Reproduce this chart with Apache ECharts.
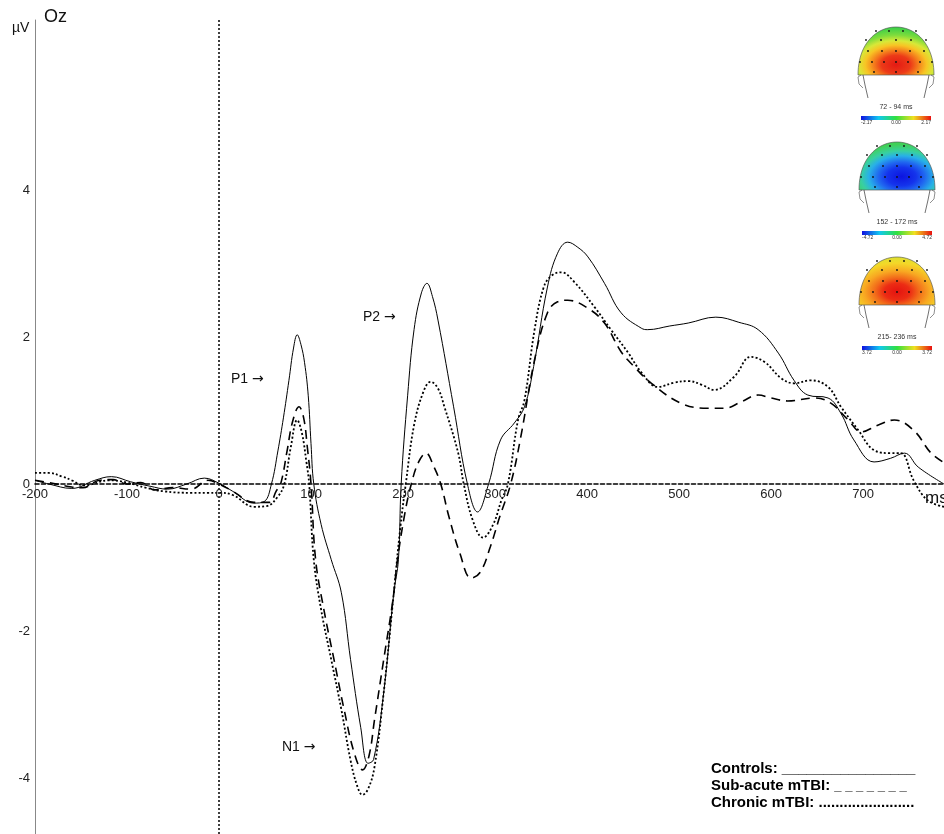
<!DOCTYPE html>
<html><head><meta charset="utf-8">
<script src="https://cdn.jsdelivr.net/npm/echarts@6/dist/echarts.min.js"></script>
<style>html,body{margin:0;padding:0;background:#fff}#c{width:944px;height:834px}</style>
</head><body><div id="c"></div>
<script>
// ---- data (time in ms, amplitude in µV) ----
const ctrlT = [-200,-185,-160,-135,-117,-96,-75,-56,-35,-16,0,15,38,49,57,64,70,76,81,85,89,93,97,100,103,111,122,133,143,154,162,168,179,190,195,198,205,212,220,226,232,238,255,270,281,293,306,321,332,342,357,368,379,390,401,419,437,459,466,490,510,540,565,586,608,625,640,662,676,690,712,730,745,760,788];
const ctrlV = [0.05,0.0,-0.06,0.05,0.1,0.03,-0.03,-0.07,0.0,0.08,0.01,-0.1,-0.26,-0.24,0.0,0.45,0.9,1.41,1.85,2.03,1.9,1.65,1.2,0.55,0.0,-0.55,-1.03,-1.48,-2.39,-3.31,-3.8,-3.75,-2.84,-1.48,-1.03,0.0,1.2,2.1,2.6,2.73,2.55,2.23,1.05,0.0,-0.38,0.0,0.6,0.83,1.05,1.6,2.68,3.14,3.29,3.22,3.09,2.73,2.33,2.12,2.10,2.15,2.19,2.27,2.2,2.10,1.78,1.41,1.21,1.17,0.96,0.6,0.3,0.35,0.42,0.23,0.0];

const subT = [-200,-185,-160,-148,-130,-115,-100,-85,-70,-50,-30,-12,0,15,38,55,62,67,74,80,87,92,96,100,105,114,125,136,147,156,163,169,179,189,194,202,209,217,225,233,241,250,262,274,284,295,305,317,328,343,357,368,379,401,419,437,451,470,502,531,549,568,586,600,618,647,665,684,698,716,734,755,774,788];
const subV = [0.05,0.02,-0.04,-0.05,0.05,0.06,0.0,0.02,-0.08,-0.05,-0.07,0.05,0.0,-0.1,-0.25,-0.25,-0.1,0.0,0.45,0.85,1.05,0.9,0.5,0.0,-1.03,-1.71,-2.39,-3.07,-3.66,-3.89,-3.7,-3.21,-2.39,-1.58,-1.03,-0.4,0.0,0.3,0.42,0.25,0.0,-0.45,-0.95,-1.28,-1.2,-0.85,-0.45,0.0,0.64,1.69,2.33,2.48,2.5,2.39,2.19,1.8,1.6,1.37,1.1,1.03,1.03,1.12,1.21,1.17,1.13,1.17,1.1,0.87,0.71,0.8,0.87,0.73,0.42,0.29];

const chrT = [-200,-185,-170,-160,-147,-120,-100,-80,-60,-30,-12,0,15,38,52,64,71,78,85,90,95,98,103,111,122,133,143,150,156,162,169,179,190,197,203,212,222,230,238,245,260,266,276,287,298,307,314,325,332,343,353,362,372,386,408,426,445,459,477,495,510,525,538,560,578,593,611,625,643,662,676,695,712,730,741,755,770,788];
const chrV = [0.15,0.15,0.1,0.05,-0.02,0.05,0.02,-0.05,-0.1,-0.12,-0.12,-0.12,-0.15,-0.31,-0.3,-0.17,0.0,0.5,0.87,0.7,0.3,0.0,-1.03,-1.71,-2.39,-3.07,-3.76,-4.1,-4.23,-4.15,-3.85,-2.84,-1.48,-0.6,0.0,0.8,1.25,1.39,1.3,1.05,0.42,0.0,-0.5,-0.73,-0.55,-0.22,0.0,0.87,1.14,2.1,2.68,2.84,2.88,2.75,2.41,2.1,1.78,1.52,1.32,1.38,1.40,1.35,1.28,1.46,1.73,1.66,1.44,1.37,1.41,1.32,1.05,0.73,0.46,0.42,0.42,0.05,-0.22,-0.31];

const xTickLabels = [-200,-100,0,100,200,300,400,500,600,700];
const yTickLabels = [-4,-2,0,2,4];
const topoMaps = [
  {label:'72 - 94 ms', lo:'-2.17', mid:'0.00', hi:'2.17'},
  {label:'152 - 172 ms', lo:'-4.72', mid:'0.00', hi:'4.72'},
  {label:'215- 236 ms', lo:'3.72', mid:'0.00', hi:'3.72'}
];

const zip = (t,v) => t.map((x,i)=>[x,v[i]]);
const FONT = 'Liberation Sans, Arial, sans-serif';
const chart = echarts.init(document.getElementById('c'), null, {renderer:'canvas'});

// ---- decorations: scalp maps ----
const RG = (x,y,r,stops) => ({type:'radial', x, y, r, colorStops:stops, global:false});
const LG = (x,y,x2,y2,stops) => ({type:'linear', x, y, x2, y2, colorStops:stops, global:false});
const SX = 1.58;
function domePoints() {
  const pts = [];
  const hw = 38/SX;
  const P0=[-hw,0],P1=[-hw,-64],P2=[hw,-64],P3=[hw,0];
  for (let k=0;k<=48;k++){
    const t=k/48, a=(1-t)**3, b=3*(1-t)**2*t, c=3*(1-t)*t*t, d=t**3;
    pts.push([a*P0[0]+b*P1[0]+c*P2[0]+d*P3[0], a*P0[1]+b*P1[1]+c*P2[1]+d*P3[1]]);
  }
  return pts;
}
const stopsSet = [
  [[0,'#e41a14'],[0.2,'#ec3a18'],[0.3,'#f47a1c'],[0.42,'#f8c424'],[0.52,'#d8e838'],[0.64,'#7edc3c'],[0.8,'#3cd048'],[1,'#30c860']],
  [[0,'#0c14e0'],[0.2,'#1434ec'],[0.32,'#2068f0'],[0.45,'#28b0e8'],[0.56,'#38d0a0'],[0.7,'#40d058'],[1,'#38cc48']],
  [[0,'#e41410'],[0.18,'#ec2c14'],[0.3,'#f26a1a'],[0.45,'#f8a822'],[0.62,'#f4d828'],[0.8,'#d4e434'],[1,'#b4dc40']]
];
const centers = [[0.5,0.78],[0.56,0.72],[0.5,0.72]];
function topo(i, cx, bottom) {
  const m = topoMaps[i];
  const els = [];
  const fill = RG(centers[i][0], centers[i][1], 0.95, stopsSet[i].map(s=>({offset:s[0], color:s[1]})));
  els.push({type:'polygon', x:cx, y:bottom, scaleX:SX, shape:{points:domePoints()}, style:{fill, stroke:'#555', lineWidth:0.5, strokeNoScale:true}, z:10});
  const rows = [[-44,[-20,-7,7,20]],[-35,[-30,-15,0,15,30]],[-24,[-28,-14,0,14,28]],[-13,[-36,-24,-12,0,12,24,36]],[-3,[-22,0,22]]];
  rows.forEach(([dy,xs])=>xs.forEach(dx=>els.push({type:'circle', shape:{cx:cx+dx, cy:bottom+dy, r:0.9}, style:{fill:'#111'}, z:12})));
  els.push({type:'polyline', shape:{points:[[cx-35,bottom],[cx-38,bottom+2],[cx-37,bottom+9],[cx-33,bottom+13]]}, style:{stroke:'#444', lineWidth:0.6, fill:null}, z:12});
  els.push({type:'polyline', shape:{points:[[cx+35,bottom],[cx+38,bottom+2],[cx+37,bottom+9],[cx+33,bottom+13]]}, style:{stroke:'#444', lineWidth:0.6, fill:null}, z:12});
  els.push({type:'polyline', shape:{points:[[cx-33,bottom],[cx-31,bottom+10],[cx-28,bottom+23]]}, style:{stroke:'#333', lineWidth:0.7, fill:null}, z:12});
  els.push({type:'polyline', shape:{points:[[cx+33,bottom],[cx+31,bottom+10],[cx+28,bottom+23]]}, style:{stroke:'#333', lineWidth:0.7, fill:null}, z:12});
  els.push({type:'text', x:cx, y:bottom+32, style:{text:m.label, font:'7px '+FONT, fill:'#333', align:'center', verticalAlign:'middle'}, z:12});
  els.push({type:'rect', shape:{x:cx-35, y:bottom+41, width:70, height:4}, style:{fill:LG(0,0,1,0,[{offset:0,color:'#1010e0'},{offset:0.25,color:'#10c8f0'},{offset:0.5,color:'#30e040'},{offset:0.75,color:'#f0e020'},{offset:1,color:'#e81010'}])}, z:12});
  els.push({type:'text', x:cx-35, y:bottom+48, style:{text:m.lo, font:'5px '+FONT, fill:'#333', align:'left', verticalAlign:'middle'}, z:12});
  els.push({type:'text', x:cx, y:bottom+48, style:{text:m.mid, font:'5px '+FONT, fill:'#333', align:'center', verticalAlign:'middle'}, z:12});
  els.push({type:'text', x:cx+35, y:bottom+48, style:{text:m.hi, font:'5px '+FONT, fill:'#333', align:'right', verticalAlign:'middle'}, z:12});
  return els;
}

const txt = (x,y,t,size) => ({type:'text', x, y, style:{text:t, font:size+'px '+FONT, fill:'#111', verticalAlign:'middle'}, z:20});
const peakTxt = (x,y,name) => ({type:'text', x, y, style:{text:'{a|'+name+' }{b|→}', verticalAlign:'middle',
  rich:{a:{fontSize:14, fontFamily:FONT, fill:'#111'}, b:{fontSize:14, fontFamily:'DejaVu Sans', fill:'#111'}}}, z:20});
const legTxt = (y, label, tail, tailSize) => ({type:'text', x:711, y, style:{text:'{a|'+label+'}{b|'+tail+'}', verticalAlign:'middle',
  rich:{a:{fontSize:15, fontWeight:'bold', fontFamily:FONT, fill:'#000'}, b:{fontSize:tailSize, fontWeight:'bold', fontFamily:FONT, fill:'#000'}}}, z:20});
const graphics = [].concat(
  topo(0, 896, 75), topo(1, 897, 190), topo(2, 897, 305),
  [
    txt(44,17,'Oz',18),
    txt(12,28,'µV',14),
    txt(925,498,'ms',17),
    peakTxt(231,379,'P1'),
    peakTxt(363,317,'P2'),
    peakTxt(282,747,'N1'),
    legTxt(769, 'Controls: ', '________________', 15),
    legTxt(786, 'Sub-acute mTBI: ', '_ _ _ _ _ _ _', 13),
    legTxt(803, 'Chronic mTBI: ', '.......................', 15)
  ]
);

const option = {
  animation:false,
  backgroundColor:'#fff',
  grid:{left:35, right:0, top:20, bottom:0, containLabel:false, outerBoundsMode:'none'},
  xAxis:{
    type:'value', min:-200, max:788, interval:100,
    axisLine:{onZero:true, lineStyle:{color:'#000', width:1.6, type:[4,2.5]}},
    axisTick:{show:false}, splitLine:{show:false},
    axisLabel:{show:false}
  },
  yAxis:{
    type:'value', min:-4.762, max:6.313,
    axisLine:{show:true, onZero:false, lineStyle:{color:'#888', width:1}},
    axisTick:{show:false}, splitLine:{show:false},
    axisLabel:{color:'#222', fontSize:13, fontFamily:FONT, margin:5, customValues:yTickLabels}
  },
  series:[
    {name:'Controls', type:'line', data:zip(ctrlT,ctrlV), smooth:0.4, showSymbol:false, lineStyle:{color:'#000', width:1}, z:5,
     markLine:{silent:true, symbol:'none', label:{show:false}, data:[{xAxis:0}], lineStyle:{color:'#000', width:1.5, type:[2,2]}}},
    {name:'Sub-acute mTBI', type:'line', data:zip(subT,subV), smooth:0.4, showSymbol:false, lineStyle:{color:'#000', width:1.6, type:[9,6]}, z:4},
    {name:'Chronic mTBI', type:'line', data:zip(chrT,chrV), smooth:0.4, showSymbol:false, lineStyle:{color:'#000', width:1.8, type:[2,2.2]}, z:3},
    {name:'xTickLabels', type:'scatter', data:xTickLabels.map(v=>[v,0]), symbolSize:0, silent:true, z:6,
     itemStyle:{opacity:1, color:'#222'},
     label:{show:true, position:'bottom', distance:4, color:'#222', opacity:1, fontSize:13, fontFamily:FONT,
       formatter:p=>String(p.value[0])}}
  ],
  graphic:graphics
};
chart.setOption(option);
</script></body></html>
